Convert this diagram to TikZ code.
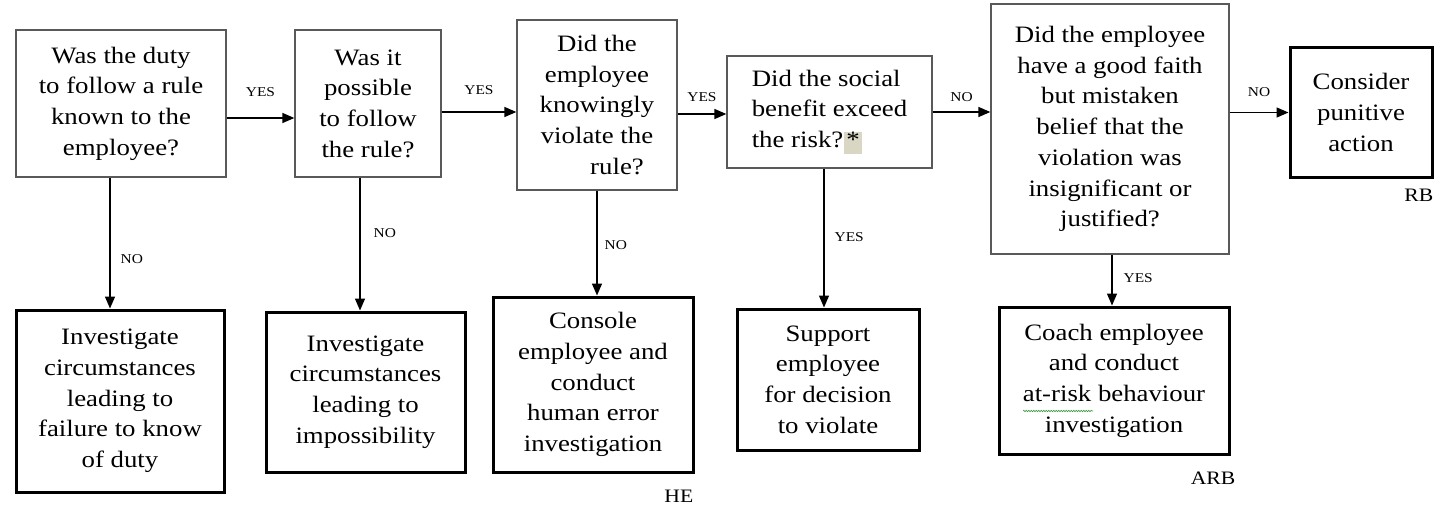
\documentclass[tikz,border=0pt]{standalone}
\usepackage{fontspec}
\setmainfont{Liberation Serif}[FakeStretch=1.14]
\usetikzlibrary{arrows.meta,decorations.pathmorphing}
\definecolor{hilite}{HTML}{D9D6C4}
\definecolor{spellgreen}{HTML}{3C9A3C}
\setlength{\fboxsep}{0pt}
\begin{document}
\begin{tikzpicture}[x=1pt,y=-1pt,
  qbox/.style={draw=black!65,line width=1.3pt,align=center,inner sep=0pt,font=\fontsize{23.5}{30.7}\selectfont},
  abox/.style={draw=black,line width=3pt,align=center,inner sep=0pt,font=\fontsize{23.5}{30.7}\selectfont},
  arr/.style={-{Triangle[length=12pt,width=10pt]},line width=1.4pt},
  lbl/.style={font=\fontsize{13.5}{15}\selectfont,inner sep=0pt},
  tag/.style={font=\fontsize{19}{21}\selectfont,inner sep=0pt}]
\useasboundingbox (0,0) rectangle (1434,508);
\node[qbox,minimum width=210pt,minimum height=147pt] (q1) at (121,103.5) {Was the duty\\to follow a rule\\known to the\\employee?};
\node[qbox,minimum width=146pt,minimum height=147pt] (q2) at (368,103.5) {Was it\\possible\\to follow\\the rule?};
\node[qbox,minimum width=160pt,minimum height=170pt] (q3) at (597,105) {Did the\\employee\\knowingly\\violate the\\\hspace*{40pt}rule?};
\node[qbox,align=left,minimum width=205pt,minimum height=112pt] (q4) at (829.5,112) {Did the social\\benefit exceed\\the risk?\hspace{1pt}\colorbox{hilite}{\rule[-0.28em]{0pt}{0.95em}\hspace{2pt}*\hspace{2pt}}};
\node[qbox,minimum width=238pt,minimum height=250pt] (q5) at (1110,129) {Did the employee\\have a good faith\\but mistaken\\belief that the\\violation was\\insignificant or\\justified?};
\node[abox,minimum width=142pt,minimum height=129pt] (rb) at (1361,112.5) {Consider\\punitive\\action};
\node[abox,minimum width=208pt,minimum height=182pt] (a1) at (120,401) {Investigate\\circumstances\\leading to\\failure to know\\of duty};
\node[abox,minimum width=199pt,minimum height=160pt] (a2) at (365.5,392) {Investigate\\circumstances\\leading to\\impossibility};
\node[abox,minimum width=200pt,minimum height=175pt] (a3) at (593,384.5) {Console\\employee and\\conduct\\human error\\investigation};
\node[abox,minimum width=182pt,minimum height=141pt] (a4) at (828,379.5) {Support\\employee\\for decision\\to violate};
\node[abox,minimum width=230pt,minimum height=147pt] (a5) at (1114,380.5) {Coach employee\\and conduct\\at-risk behaviour\\investigation};
\draw[arr] ([yshift=-14.5pt]q1.east) -- node[lbl,above=21pt] (y1) {YES} ([yshift=-14.5pt]q2.west);
\draw[arr] ([yshift=-8.5pt]q2.east) -- node[lbl,above=17pt] (y2) {YES} ([yshift=-7pt]q3.west);
\draw[arr] ([yshift=-9pt]q3.east) -- node[lbl,above=12pt] (y3) {YES} ([yshift=-2pt]q4.west);
\draw[arr] (q4.east) -- node[lbl,above=10pt] (n4) {NO} (q4.east -| q5.west);
\draw[arr] (q5.east |- rb.west) -- node[lbl,above=15pt] (n5) {NO} (rb.west);
\draw[arr] ([xshift=-11pt]q1.south) -- node[lbl,right=10pt,pos=0.62] (n1) {NO} ([xshift=-10pt]a1.north);
\draw[arr] ([xshift=-8pt]q2.south) -- node[lbl,right=13pt,pos=0.42] (n2) {NO} ([xshift=-5.5pt]a2.north);
\draw[arr] (q3.south) -- node[lbl,right=7pt,pos=0.52] (n3) {NO} (q3.south |- a3.north);
\draw[arr] ([xshift=-5.5pt]q4.south) -- node[lbl,right=10pt,pos=0.49] (y4) {YES} ([xshift=-4pt]a4.north);
\draw[arr] ([xshift=2pt]q5.south) -- node[lbl,right=11pt,pos=0.47] (y5) {YES} ([xshift=-2pt]a5.north);
\node[tag,anchor=north east] (rbtag) at ([yshift=-10pt]rb.south east) {RB};
\node[tag,anchor=north east] (hetag) at ([xshift=-1pt,yshift=-16pt]a3.south east) {HE};
\node[tag,anchor=north east] (arbtag) at ([xshift=5pt,yshift=-16pt]a5.south east) {ARB};
\draw[spellgreen,line width=0.6pt,decorate,decoration={snake,amplitude=0.7pt,segment length=2.5pt}] (1023,411) -- (1093,411);
\end{tikzpicture}
\end{document}
